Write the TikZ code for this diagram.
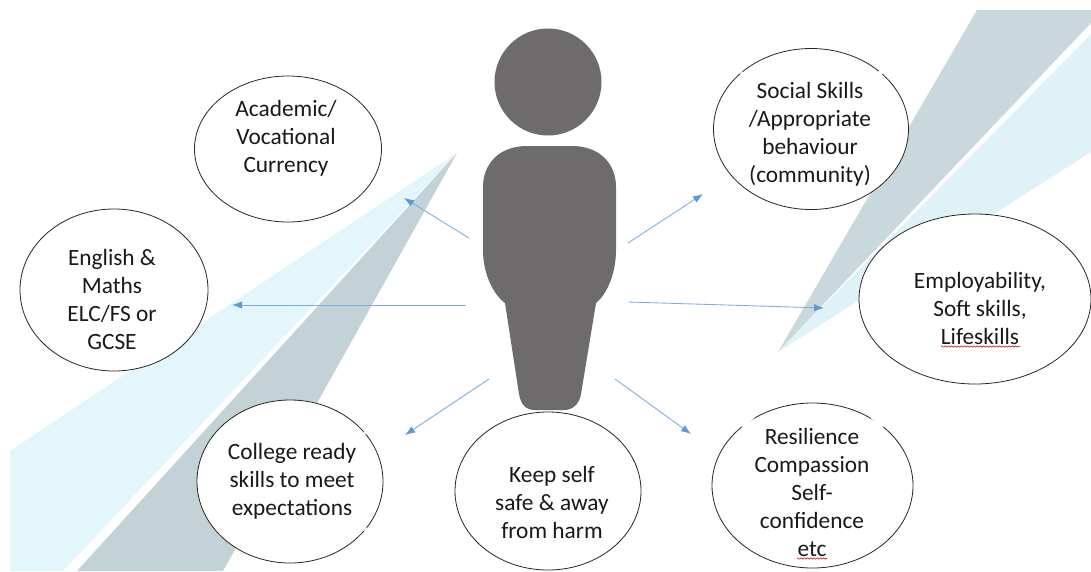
\documentclass[tikz,border=0pt]{standalone}
\usepackage{fontspec}
\setmainfont{Carlito}
\usetikzlibrary{arrows.meta,shapes.geometric,decorations.pathmorphing}
\definecolor{paleblue}{HTML}{E2F6FC}
\definecolor{paleblueb}{HTML}{DFF2F8}
\definecolor{palegrey}{HTML}{C3D2D6}
\definecolor{palegreyb}{HTML}{C8D8DC}
\definecolor{person}{HTML}{6D6B6C}
\definecolor{link}{HTML}{5B9BD5}
\tikzset{
  x=0.75pt,y=-0.75pt,
  bubble/.style 2 args={ellipse,draw=black!85,line width=0.6pt,fill=white,inner sep=0pt,minimum width=0.75pt*#1,minimum height=0.75pt*#2},
  label text/.style={align=center,inner sep=0pt,text=black!90,font=\fontsize{17.5}{21}\selectfont},
  link arrow/.style={draw=link!80,line width=0.65pt,-{Latex[length=7.5pt,width=5.5pt,color=link]}},
  gap/.style={draw=white,line width=1.6pt},
  squiggle/.style={draw=red!75!black,line width=0.4pt,decorate,decoration={snake,amplitude=0.5pt,segment length=2.4pt}}
}
\begin{document}
\begin{tikzpicture}
\useasboundingbox (0,0) rectangle (1091,571);
\fill[white] (0,0) rectangle (1091,571);
% wedges
\fill[paleblue] (457,153) -- (10,451) -- (10,571) -- (63,571) -- cycle;
\fill[palegrey] (457,153) -- (77,571) -- (223,571) -- cycle;
\fill[palegreyb] (778,352) -- (977,10) -- (1091,10) -- (1091,23) -- cycle;
\fill[paleblueb] (778,352) -- (1091,34) -- (1091,152) -- cycle;
% person
\fill[person] (548,82) circle [radius=53.5];
\fill[person] (527,146) -- (572,146)
  .. controls (600,146) and (616,164) .. (616,187)
  -- (616,250)
  .. controls (616,275) and (606,295) .. (596,303)
  -- (581,394)
  .. controls (579,405) and (572,410) .. (564,410)
  -- (535,410)
  .. controls (526,410) and (521,405) .. (519,394)
  -- (505,303)
  .. controls (494,295) and (483,275) .. (483,250)
  -- (483,187)
  .. controls (483,164) and (499,146) .. (527,146) -- cycle;
% bubbles
\node[bubble={187}{146}] (academic) at (288,149) {};
\node[bubble={188}{162}] (english) at (114,290) {};
\node[bubble={186}{163}] (college) at (290,481.5) {};
\node[bubble={186}{158}] (safe) at (548,491) {};
\node[bubble={201}{165}] (resilience) at (812.5,485.5) {};
\node[bubble={195}{161}] (social) at (811,129) {};
\node[bubble={232}{170}] (employ) at (975,299) {};
% gaps in outlines
\draw[gap] (741,74.5) -- (743,72);
\draw[gap] (879,71) -- (882,74);
\draw[gap] (742,427) -- (754,417);
\draw[gap] (871,417) -- (883,427);
\draw[gap] (364.5,431) -- (366,434);
\draw[gap] (365,531) -- (367,528);
\draw[gap] (1059,360) -- (1062,357);
% texts
\node[label text] (tacademic) at (286,138) {Academic/\\Vocational\\Currency};
\node[label text] (tenglish) at (112,299.5) {English \&\\Maths\\ELC/FS or\\GCSE};
\node[label text] (tcollege) at (292,481) {College ready\\skills to meet\\expectations};
\node[label text] (tsafe) at (552,502) {Keep self\\safe \& away\\from harm};
\node[label text] (tresilience) at (812,492.5) {Resilience\\Compassion\\Self-\\confidence\\etc};
\node[label text] (tsocial) at (810,134.5) {Social Skills\\/Appropriate\\behaviour\\(community)};
\node[label text] (temploy) at (980,308.5) {Employability,\\Soft skills,\\Lifeskills};
% spelling marks
\coordinate (s1) at (941,346.5); \coordinate (s2) at (1020,346.5);
\coordinate (s3) at (797,558.5); \coordinate (s4) at (827,558.5);
\draw[squiggle] (s1) -- (s2);
\draw[squiggle] (s3) -- (s4);
% arrows
\coordinate (a1) at (469,238); \coordinate (b1) at (404,198);
\coordinate (a2) at (466,305); \coordinate (b2) at (232,305);
\coordinate (a3) at (489,379); \coordinate (b3) at (405,435);
\coordinate (a4) at (615,379); \coordinate (b4) at (691,434);
\coordinate (a5) at (628,243); \coordinate (b5) at (703,194);
\coordinate (a6) at (628,302); \coordinate (b6) at (824,308);
\draw[link arrow] (a1) -- (b1);
\draw[link arrow] (a2) -- (b2);
\draw[link arrow] (a3) -- (b3);
\draw[link arrow] (a4) -- (b4);
\draw[link arrow] (a5) -- (b5);
\draw[link arrow] (a6) -- (b6);
\end{tikzpicture}
\end{document}
